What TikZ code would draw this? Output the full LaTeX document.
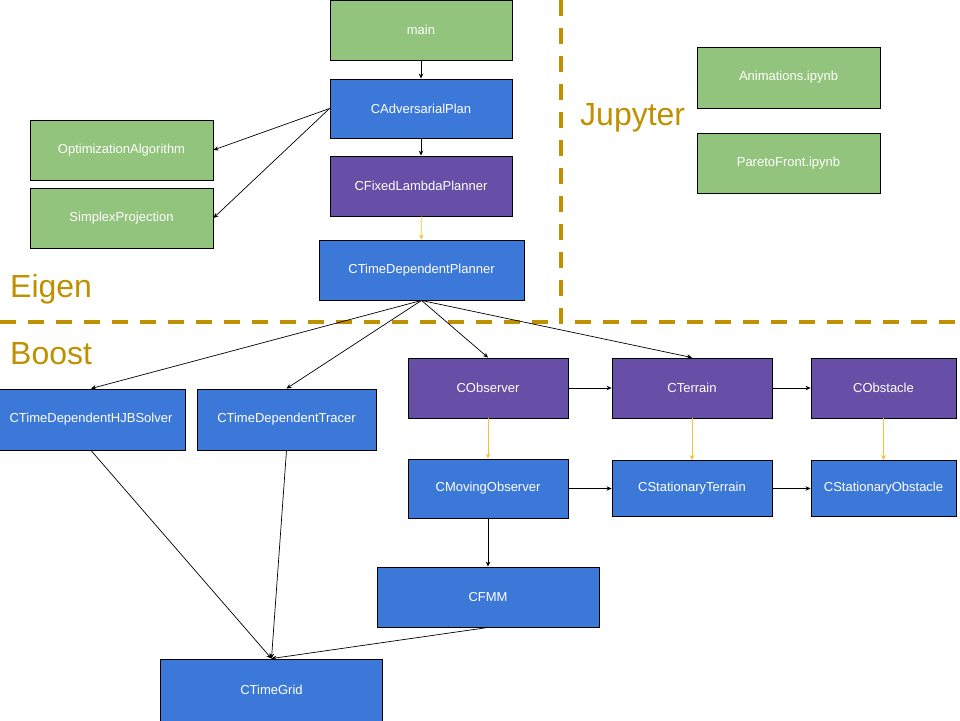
\documentclass[tikz,border=0pt]{standalone}
\usepackage{fontspec}
\setmainfont{Liberation Sans}
\usetikzlibrary{arrows.meta}
\definecolor{clsgreen}{HTML}{93C47D}
\definecolor{clsblue}{HTML}{3C78D8}
\definecolor{clspurple}{HTML}{674EA7}
\definecolor{libgold}{HTML}{BF9000}
\definecolor{derived}{HTML}{F1C232}
\tikzset{
  cls/.style={draw=black, line width=0.9pt, text=white, inner sep=0pt,
    minimum height=60pt, font=\fontsize{13}{15}\selectfont},
  greencls/.style={cls, fill=clsgreen},
  bluecls/.style={cls, fill=clsblue},
  purplecls/.style={cls, fill=clspurple},
  uses/.style={-{Stealth[length=5pt,width=4.5pt]}, line width=0.7pt, black},
  inherits/.style={-{Stealth[length=5pt,width=4.5pt]}, line width=0.7pt, derived},
  libname/.style={anchor=base west, inner sep=0pt, text=libgold, font=\fontsize{32}{36}\selectfont},
  border/.style={libgold, line width=3.5pt, dash pattern=on 16pt off 12pt}
}
\begin{document}
\begin{tikzpicture}[x=1pt,y=-1pt]
  \useasboundingbox (0,0) rectangle (960,720);
  % library regions
  \draw[border] (561,0)--(561,322)--(960,322);
  \draw[border] (0,322)--(561,322);
  \node[libname] (jupyter) at (580,125) {Jupyter};
  \node[libname] (eigen) at (10,297) {Eigen};
  \node[libname] (boost) at (10,364) {Boost};
  % top chain
  \node[greencls, minimum width=182pt] (main) at (421,30) {main};
  \node[bluecls, minimum width=182pt, minimum height=59pt] (adv) at (421,108.5) {CAdversarialPlan};
  \node[purplecls, minimum width=182pt] (fixed) at (421,186) {CFixedLambdaPlanner};
  \node[bluecls, minimum width=205pt] (tdplanner) at (421.5,270) {CTimeDependentPlanner};
  % eigen helpers
  \node[greencls, minimum width=183pt] (optalg) at (121.5,150) {OptimizationAlgorithm};
  \node[greencls, minimum width=183pt] (simplex) at (121.5,218) {SimplexProjection};
  % notebooks
  \node[greencls, minimum width=183pt, minimum height=61pt] (anim) at (788.5,77.5) {Animations.ipynb};
  \node[greencls, minimum width=183pt] (pareto) at (788.5,163) {ParetoFront.ipynb};
  % boost side
  \node[bluecls, minimum width=188pt, minimum height=61pt] (hjb) at (91,419.5) {CTimeDependentHJBSolver};
  \node[bluecls, minimum width=179pt, minimum height=61pt] (tracer) at (286.5,419.5) {CTimeDependentTracer};
  \node[purplecls, minimum width=160pt] (observer) at (488,388) {CObserver};
  \node[purplecls, minimum width=160pt] (terrain) at (692,388) {CTerrain};
  \node[purplecls, minimum width=145pt] (obstacle) at (883.5,388) {CObstacle};
  \node[bluecls, minimum width=160pt, minimum height=59pt] (movobs) at (488,488.5) {CMovingObserver};
  \node[bluecls, minimum width=160pt, minimum height=56pt] (statterr) at (692,488.5) {CStationaryTerrain};
  \node[bluecls, minimum width=145pt, minimum height=56pt] (statobs) at (883.5,488.5) {CStationaryObstacle};
  \node[bluecls, minimum width=222pt] (fmm) at (488,597) {CFMM};
  \node[bluecls, minimum width=222pt, minimum height=62pt] (grid) at (271.5,690) {CTimeGrid};
  % connectors
  \draw[uses] (main) -- (adv);
  \draw[uses] (adv) -- (fixed);
  \draw[inherits] (fixed) -- (tdplanner);
  \draw[uses] (adv.west) -- (optalg.east);
  \draw[uses] (adv.west) -- (simplex.east);
  \foreach \t in {hjb,tracer,observer,terrain}
    \draw[uses] (tdplanner.south) -- (\t.north);
  \draw[uses] (observer) -- (terrain);
  \draw[uses] (terrain) -- (obstacle);
  \draw[uses] (movobs) -- (statterr);
  \draw[uses] (statterr) -- (statobs);
  \foreach \a/\b in {observer/movobs,terrain/statterr,obstacle/statobs}
    \draw[inherits] (\a) -- (\b);
  \draw[uses] (movobs) -- (fmm);
  \foreach \s in {hjb,tracer,fmm}
    \draw[uses] (\s.south) -- (grid.north);
\end{tikzpicture}
\end{document}
